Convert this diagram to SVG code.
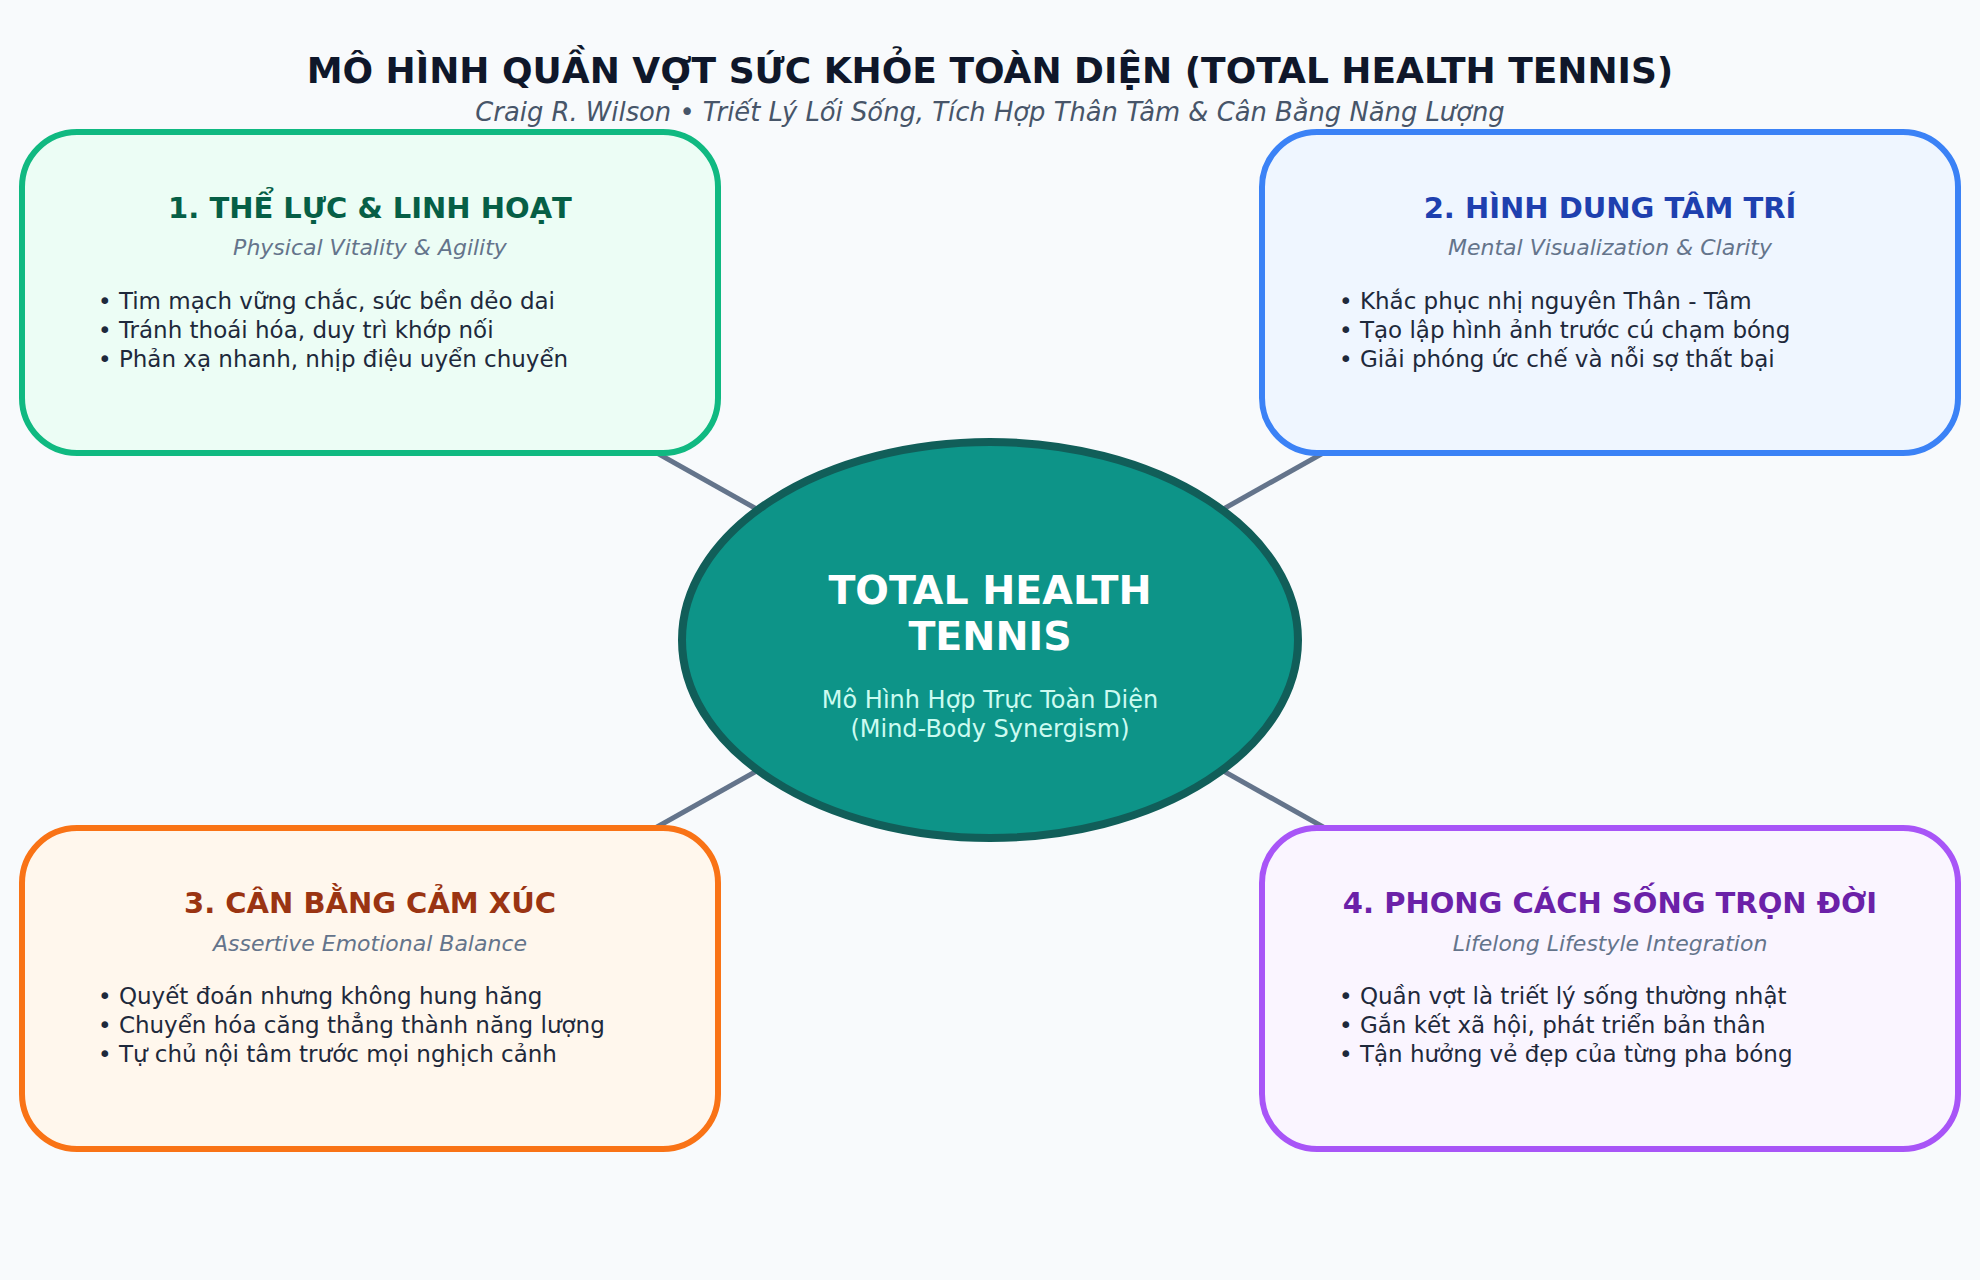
<svg xmlns="http://www.w3.org/2000/svg" width="1980" height="1280" viewBox="0 0 1980 1280">
<style>
.title{font-family:"DejaVu Sans",sans-serif;font-weight:bold;font-size:36px;fill:#0f172a;text-anchor:middle}
.sub{font-family:"DejaVu Sans",sans-serif;font-style:italic;font-size:25.8px;fill:#475569;text-anchor:middle}
.box{stroke-width:6}
.bt{font-family:"DejaVu Sans",sans-serif;font-weight:bold;font-size:29px;text-anchor:middle}
.bs{font-family:"DejaVu Sans",sans-serif;font-style:italic;font-size:22px;fill:#64748b;text-anchor:middle}
.bl{font-family:"DejaVu Sans",sans-serif;font-size:23px;fill:#1e293b}
.conn{stroke:#64748b;stroke-width:5}
.ct{font-family:"DejaVu Sans",sans-serif;font-weight:bold;font-size:39.5px;fill:#ffffff;text-anchor:middle}
.cs{font-family:"DejaVu Sans",sans-serif;font-size:24px;fill:#ccfbf1;text-anchor:middle}
</style>
<rect width="1980" height="1280" fill="#f8fafc"/>
<text class="title" x="990" y="83">MÔ HÌNH QUẦN VỢT SỨC KHỎE TOÀN DIỆN (TOTAL HEALTH TENNIS)</text>
<text class="sub" x="990" y="121">Craig R. Wilson • Triết Lý Lối Sống, Tích Hợp Thân Tâm &amp; Cân Bằng Năng Lượng</text>
<g id="connectors">
<line class="conn" x1="370" y1="292" x2="990" y2="640"/>
<line class="conn" x1="1610" y1="292" x2="990" y2="640"/>
<line class="conn" x1="370" y1="988" x2="990" y2="640"/>
<line class="conn" x1="1610" y1="988" x2="990" y2="640"/>
</g>
<g id="node1">
<rect class="box" x="22" y="132" width="696" height="321" rx="55" fill="#ecfdf5" stroke="#10b981"/>
<text class="bt" x="370" y="218" fill="#065f46">1. THỂ LỰC &amp; LINH HOẠT</text>
<text class="bs" x="370" y="255">Physical Vitality &amp; Agility</text>
<text class="bl" x="98" y="309">• Tim mạch vững chắc, sức bền dẻo dai</text>
<text class="bl" x="98" y="338">• Tránh thoái hóa, duy trì khớp nối</text>
<text class="bl" x="98" y="367">• Phản xạ nhanh, nhịp điệu uyển chuyển</text>
</g>
<g id="node2">
<rect class="box" x="1262" y="132" width="696" height="321" rx="55" fill="#eff6ff" stroke="#3b82f6"/>
<text class="bt" x="1610" y="218" fill="#1e40af">2. HÌNH DUNG TÂM TRÍ</text>
<text class="bs" x="1610" y="255">Mental Visualization &amp; Clarity</text>
<text class="bl" x="1339" y="309">• Khắc phục nhị nguyên Thân - Tâm</text>
<text class="bl" x="1339" y="338">• Tạo lập hình ảnh trước cú chạm bóng</text>
<text class="bl" x="1339" y="367">• Giải phóng ức chế và nỗi sợ thất bại</text>
</g>
<g id="node3">
<rect class="box" x="22" y="828" width="696" height="321" rx="55" fill="#fff7ed" stroke="#f97316"/>
<text class="bt" x="370" y="913" fill="#9a3412">3. CÂN BẰNG CẢM XÚC</text>
<text class="bs" x="370" y="951">Assertive Emotional Balance</text>
<text class="bl" x="98" y="1004">• Quyết đoán nhưng không hung hăng</text>
<text class="bl" x="98" y="1033">• Chuyển hóa căng thẳng thành năng lượng</text>
<text class="bl" x="98" y="1062">• Tự chủ nội tâm trước mọi nghịch cảnh</text>
</g>
<g id="node4">
<rect class="box" x="1262" y="828" width="696" height="321" rx="55" fill="#faf5ff" stroke="#a855f7"/>
<text class="bt" x="1610" y="913" fill="#6b21a8">4. PHONG CÁCH SỐNG TRỌN ĐỜI</text>
<text class="bs" x="1610" y="951">Lifelong Lifestyle Integration</text>
<text class="bl" x="1339" y="1004">• Quần vợt là triết lý sống thường nhật</text>
<text class="bl" x="1339" y="1033">• Gắn kết xã hội, phát triển bản thân</text>
<text class="bl" x="1339" y="1062">• Tận hưởng vẻ đẹp của từng pha bóng</text>
</g>
<g id="center">
<ellipse cx="990" cy="640" rx="308" ry="198" fill="#0d9488" stroke="#115e59" stroke-width="8"/>
<text class="ct" x="990" y="604">TOTAL HEALTH</text>
<text class="ct" x="990" y="650">TENNIS</text>
<text class="cs" x="990" y="708">Mô Hình Hợp Trực Toàn Diện</text>
<text class="cs" x="990" y="737">(Mind-Body Synergism)</text>
</g>
</svg>
